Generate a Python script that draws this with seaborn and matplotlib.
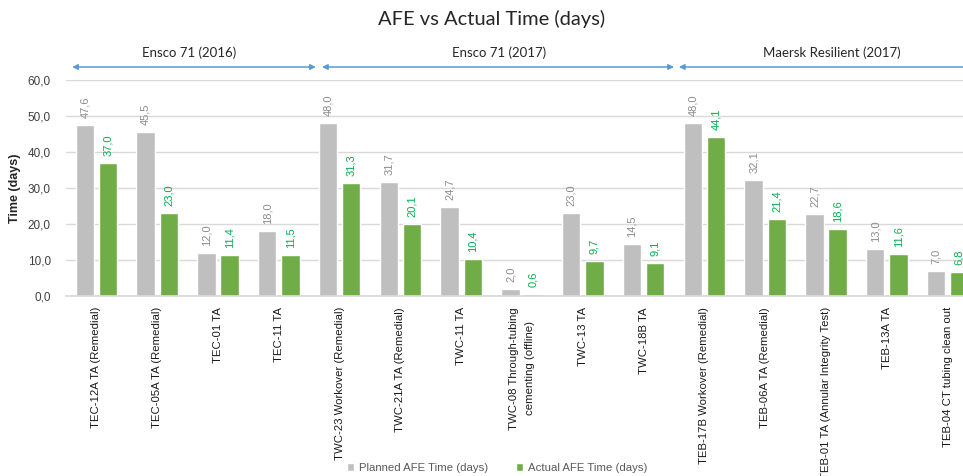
import matplotlib
matplotlib.use("Agg")
import matplotlib.pyplot as plt
import matplotlib.transforms as mtransforms
from matplotlib.patches import Patch
import pandas as pd
import seaborn as sns

# Well operations and their planned vs actual durations (days)
operations = [
    "TEC-12A TA (Remedial)",
    "TEC-05A TA (Remedial)",
    "TEC-01 TA",
    "TEC-11 TA",
    "TWC-23 Workover (Remedial)",
    "TWC-21A TA (Remedial)",
    "TWC-11 TA",
    "TWC-08 Through-tubing\ncementing (offline)",
    "TWC-13 TA",
    "TWC-18B TA",
    "TEB-17B Workover (Remedial)",
    "TEB-06A TA (Remedial)",
    "TEB-01 TA (Annular Integrity Test)",
    "TEB-13A TA",
    "TEB-04 CT tubing clean out",
]
planned = [47.6, 45.5, 12.0, 18.0, 48.0, 31.7, 24.7, 2.0, 23.0, 14.5, 48.0, 32.1, 22.7, 13.0, 7.0]
actual = [37.0, 23.0, 11.4, 11.5, 31.3, 20.1, 10.4, 0.6, 9.7, 9.1, 44.1, 21.4, 18.6, 11.6, 6.8]

series_names = ["Planned AFE Time (days)", "Actual AFE Time (days)"]
yticks = [0, 10, 20, 30, 40, 50, 60]

# Rig campaigns: label, arrow start, arrow end, label centre (category units)
campaigns = [
    ("Ensco 71 (2016)", -0.40, 3.61, 1.52),
    ("Ensco 71 (2017)", 3.71, 9.50, 6.62),
    ("Maersk Resilient (2017)", 9.58, 15.2, 12.1),
]

df = pd.DataFrame({
    "operation": operations * 2,
    "days": planned + actual,
    "series": [series_names[0]] * len(operations) + [series_names[1]] * len(operations),
})

sns.set_theme(style="white")
plt.rcParams["font.family"] = ["Liberation Sans", "DejaVu Sans"]

gray = "#BFBFBF"
green = "#70AD47"

fig = plt.figure(figsize=(9.63, 4.76), dpi=100)
ax = fig.add_axes([66 / 963, 180 / 476, 912 / 963, 216 / 476])

sns.barplot(
    data=df, x="operation", y="days", hue="series",
    palette=[gray, green], width=0.76, gap=0.2, ax=ax,
    legend=False, saturation=1,
)

ax.set_ylim(0, 60)
ax.set_xlim(-0.5, len(operations) - 0.5)
ax.set_yticks(yticks)
ax.set_yticklabels([f"{v:.1f}".replace(".", ",") for v in yticks], fontsize=8.5, color="#404040")
ax.yaxis.grid(True, color="#D9D9D9", linewidth=1)
ax.set_axisbelow(True)
ax.set_xlabel("")
ax.set_ylabel("Time (days)", fontsize=9, fontweight="bold", color="#262626", labelpad=5)
ax.tick_params(axis="x", length=0, pad=8)
ax.tick_params(axis="y", length=0, pad=11)
ax.set_xticks(range(len(operations)))
ax.set_xticklabels(operations, rotation=90, fontsize=8.2, color="#1a1a1a", va="top", ha="center",
                   linespacing=1.7)
for s in ["left", "right", "top"]:
    ax.spines[s].set_visible(False)
ax.spines["bottom"].set_color("#D9D9D9")

# Value labels above bars
label_colors = ["#8C8C8C", "#00B050"]
for cont, vals, col in zip(ax.containers, [planned, actual], label_colors):
    ax.bar_label(cont, labels=[f"{v:.1f}".replace(".", ",") for v in vals],
                 rotation=90, padding=5, fontsize=8, color=col)

# Campaign arrows and labels above the plot
trans = mtransforms.blended_transform_factory(ax.transData, fig.transFigure)
arrow_y = 1 - 67 / 476
text_y = 1 - 53 / 476
for name, x0, x1, xc in campaigns:
    ax.annotate("", xy=(x0, arrow_y), xytext=(x1, arrow_y), xycoords=trans, textcoords=trans,
                arrowprops=dict(arrowstyle="<|-|>", color="#5B9BD5", lw=1.1,
                                mutation_scale=8, shrinkA=0, shrinkB=0),
                annotation_clip=False)
    ax.text(xc, text_y, name, transform=trans, ha="center", va="center",
            fontsize=9.5, color="#262626", family=["Lato", "DejaVu Sans"])

fig.text(492 / 963, 1 - 19 / 476, "AFE vs Actual Time (days)", ha="center", va="center",
         fontsize=14.5, color="#262626", family=["Lato", "DejaVu Sans"])

# Legend
handles = [Patch(facecolor=gray), Patch(facecolor=green)]
fig.legend(handles, series_names, loc="center", bbox_to_anchor=(497 / 963, 1 - 468 / 476),
           ncol=2, frameon=False, fontsize=8.2, handlelength=0.6, handleheight=0.6,
           handletextpad=0.4, columnspacing=2.5, labelcolor="#595959")

fig.savefig("out.png", dpi=100)
